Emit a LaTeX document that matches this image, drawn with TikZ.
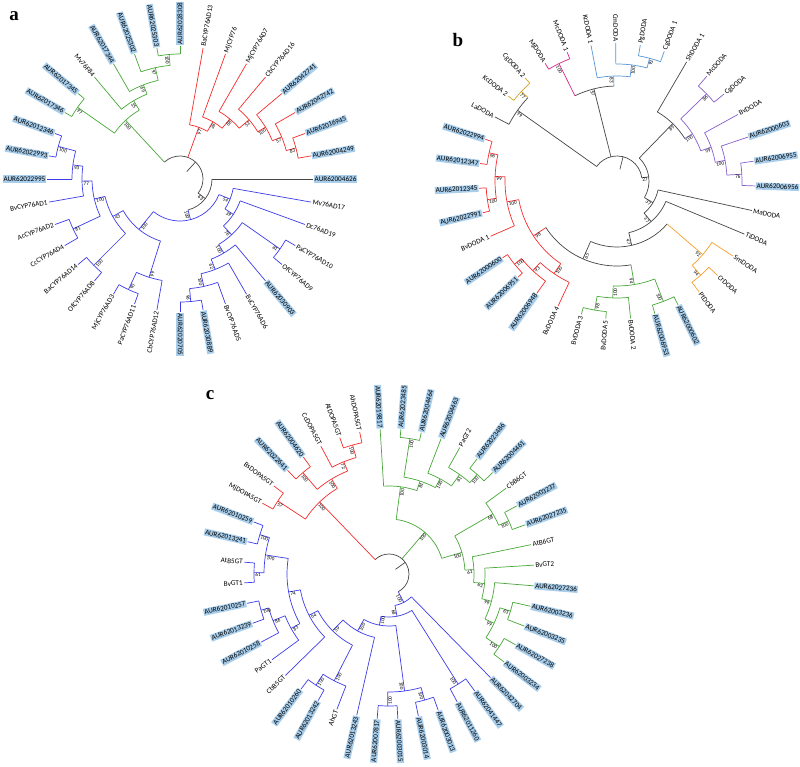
\documentclass[tikz,border=0pt]{standalone}
\usepackage{fontspec}
\newfontfamily\lblf{Carlito}
\newfontfamily\pnlf{Liberation Serif}
\newcommand\lblfont{\lblf\fontsize{7.2}{8}\selectfont}
\newcommand\bsfont{\lblf\fontsize{5.2}{5.5}\selectfont}
\definecolor{cG}{RGB}{72,168,56}
\definecolor{cR}{RGB}{245,45,45}
\definecolor{cB}{RGB}{60,60,235}
\definecolor{cK}{RGB}{70,70,70}
\definecolor{cGo}{RGB}{205,165,45}
\definecolor{cMg}{RGB}{215,40,135}
\definecolor{cLb}{RGB}{85,150,215}
\definecolor{cPu}{RGB}{135,95,205}
\definecolor{cOr}{RGB}{245,160,45}
\definecolor{hlc}{RGB}{168,206,236}
\newcounter{lf}\newcounter{bs}
\tikzset{
  br/.style={line width=0.7pt, line join=round},
  lab/.style={font=\lblfont, inner sep=0.9pt, text height=4.9pt, text depth=0.4pt},
  hl/.style={lab, fill=hlc},
  bsl/.style={font=\bsfont, inner sep=0.3pt, text height=3.6pt, text depth=0pt},
  pnl/.style={font=\pnlf\bfseries\fontsize{19}{19}\selectfont, inner sep=0pt}
}
\newcommand\Side[1]{%
  \pgfmathsetmacro\pA{mod(#1+720,360)}%
  \pgfmathsetmacro\pA{\pA>180 ? \pA-360 : \pA}%
  \pgfmathtruncatemacro\pS{abs(\pA)<=90.01 ? 1 : 0}%
  \ifnum\pS=1 \pgfmathsetmacro\pR{0-(\pA)}\else\pgfmathsetmacro\pR{180-(\pA)}\fi}
% leaf: colour, angle, parent radius, style, text
\newcommand\Lf[5]{%
  \draw[br,#1] (#2:#3) -- (#2:\LR);
  \Side{#2}%
  \stepcounter{lf}%
  \ifnum\pS=1
    \node[#4,anchor=west,rotate=\pR] (L\arabic{lf}) at ({\pA}:{\LR+0.6}) {#5};
  \else
    \node[#4,anchor=east,rotate=\pR] (L\arabic{lf}) at ({\pA}:{\LR+0.6}) {#5};
  \fi}
% internal node: colour, angle, parent radius, radius, arc from, arc to, support
\newcommand\In[7]{%
  \draw[br,#1] (#2:#3) -- (#2:#4);
  \draw[br,#1] (#5:#4) arc[start angle=#5,end angle=#6,radius=#4];
  \Side{#2}%
  \stepcounter{bs}%
  \ifnum\pS=1
    \node[bsl,anchor=north east,rotate=\pR] (B\arabic{bs}) at ({\pA}:{#4-1}) {#7};
  \else
    \node[bsl,anchor=north west,rotate=\pR] (B\arabic{bs}) at ({\pA}:{#4-1}) {#7};
  \fi}
\begin{document}
\begin{tikzpicture}[x=1pt,y=1pt]
\useasboundingbox (0,0) rectangle (800,-767);
\fill[white] (0,0) rectangle (800,-767);
\node[pnl] (pa) at (14,-16) {a};
\node[pnl] (pb) at (458,-40) {b};
\node[pnl] (pc) at (210,-395) {c};

% ================= tree a =================
\begin{scope}[shift={(180,-179)},yscale=-1]
\def\LR{133}
\draw[br,cK] (-47.5:10) -- (-47.5:23);
\draw[br,cK] (-132.8:23) arc[start angle=-132.8,end angle=37.75,radius=23];
% green
\In{cG}{-132.8}{23}{80}{-145}{-120.6}{100}
\In{cG}{-120.6}{80}{91}{-130}{-111.25}{35}
\In{cG}{-111.25}{91}{101}{-120}{-102.5}{69}
\In{cG}{-102.5}{101}{114}{-110}{-95}{97}
\In{cG}{-95}{114}{125}{-100}{-90}{100}
\In{cG}{-145}{80}{125}{-150}{-140}{97}
\Lf{cG}{-90}{125}{hl}{AUR62028308}
\Lf{cG}{-100}{125}{hl}{AUR62025303}
\Lf{cG}{-110}{114}{hl}{AUR62025302}
\Lf{cG}{-120}{101}{hl}{AUR62017344}
\Lf{cG}{-130}{91}{lab}{Mv76F84}
\Lf{cG}{-140}{125}{hl}{AUR62017345}
\Lf{cG}{-150}{125}{hl}{AUR62017346}
% red
\In{cR}{-70.08}{23}{55}{-80}{-60.16}{97}
\In{cR}{-60.16}{55}{66}{-70}{-50.31}{28}
\In{cR}{-50.31}{66}{78}{-60}{-40.63}{88}
\In{cR}{-40.63}{78}{91}{-50}{-31.25}{52}
\In{cR}{-31.25}{91}{100}{-40}{-22.5}{100}
\In{cR}{-22.5}{100}{110}{-30}{-15}{57}
\In{cR}{-15}{110}{120}{-20}{-10}{83}
\Lf{cR}{-80}{55}{lab}{BaCYP76AD13}
\Lf{cR}{-70}{66}{lab}{MjCYP76}
\Lf{cR}{-60}{78}{lab}{MjCYP76AD7}
\Lf{cR}{-50}{91}{lab}{CbCYP76AD16}
\Lf{cR}{-40}{100}{hl}{AUR62042741}
\Lf{cR}{-30}{110}{hl}{AUR62042742}
\Lf{cR}{-20}{120}{hl}{AUR62016945}
\Lf{cR}{-10}{120}{hl}{AUR62004249}
% black + blue
\In{cK}{37.75}{23}{32}{0}{75.5}{63}
\Lf{cK}{0}{32}{hl}{AUR62004626}
\In{cB}{75.5}{32}{42}{21.8}{129.2}{100}
\In{cB}{21.8}{42}{54}{10}{33.59}{54}
\Lf{cB}{10}{54}{lab}{Mv76AD17}
\In{cB}{33.59}{54}{64}{20}{47.19}{39}
\Lf{cB}{20}{64}{lab}{Dc76AD19}
\In{cB}{47.19}{64}{76}{35}{59.38}{78}
\In{cB}{35}{76}{122}{30}{40}{81}
\Lf{cB}{30}{122}{lab}{PaCYP76AD10}
\Lf{cB}{40}{122}{lab}{OfCYP76AD9}
\In{cB}{59.38}{76}{86}{50}{68.75}{100}
\Lf{cB}{50}{86}{hl}{AUR62030903}
\In{cB}{68.75}{86}{97}{60}{77.5}{62}
\Lf{cB}{60}{97}{lab}{BvCYP76AD6}
\In{cB}{77.5}{97}{110}{70}{85}{100}
\Lf{cB}{70}{110}{lab}{BvCYP76AD5}
\In{cB}{85}{110}{123}{80}{90}{96}
\Lf{cB}{80}{123}{hl}{AUR62030889}
\Lf{cB}{90}{123}{hl}{AUR62020705}
\In{cB}{129.2}{42}{65}{107.5}{150.9}{100}
\In{cB}{107.5}{65}{103}{100}{115}{99}
\Lf{cB}{100}{103}{lab}{CbCYP76AD12}
\In{cB}{115}{103}{122}{110}{120}{90}
\Lf{cB}{110}{122}{lab}{PaCYP76AD11}
\Lf{cB}{120}{122}{lab}{MjCYP76AD3}
\In{cB}{150.9}{65}{77}{135}{166.9}{43}
\In{cB}{135}{77}{122}{130}{140}{100}
\Lf{cB}{130}{122}{lab}{OfCYP76AD8}
\Lf{cB}{140}{122}{lab}{BaCYP76AD14}
\In{cB}{166.9}{77}{88}{155}{178.75}{100}
\In{cB}{155}{88}{118}{150}{160}{81}
\Lf{cB}{150}{118}{lab}{CcCYP76AD4}
\Lf{cB}{160}{118}{lab}{AcCYP76AD2}
\In{cB}{178.75}{88}{98}{170}{187.5}{77}
\Lf{cB}{170}{98}{lab}{BvCYP76AD1}
\In{cB}{187.5}{98}{108}{180}{195}{93}
\Lf{cB}{180}{108}{hl}{AUR62022995}
\In{cB}{195}{108}{126}{190}{200}{100}
\Lf{cB}{190}{126}{hl}{AUR62022993}
\Lf{cB}{200}{126}{hl}{AUR62012346}
\end{scope}

% ================= tree b =================
\begin{scope}[shift={(617,-181)},yscale=-1]
\def\LR{138}
\draw[br,cK] (-75.98:12) -- (-75.98:25);
\draw[br,cK] (-144.58:25) arc[start angle=-144.58,end angle=-7.375,radius=25];
\In{cK}{-144.58}{25}{122}{-152.3}{-136.865}{99}
\Lf{cK}{-152.3}{122}{lab}{LaDODA}
\In{cGo}{-136.865}{122}{131}{-142.01}{-131.72}{77}
\Lf{cGo}{-142.01}{131}{lab}{KcDODA 2}
\Lf{cGo}{-131.72}{131}{lab}{CgDODA 2}
\In{cK}{-104.07}{25}{95}{-116.285}{-91.85}{57}
\In{cMg}{-116.285}{95}{131}{-121.43}{-111.14}{100}
\Lf{cMg}{-121.43}{131}{lab}{MjDODA}
\Lf{cMg}{-111.14}{131}{lab}{McDODA 1}
\In{cLb}{-91.85}{95}{105}{-100.85}{-82.84}{83}
\Lf{cLb}{-100.85}{105}{lab}{KcDODA 1}
\In{cLb}{-82.84}{105}{117}{-90.56}{-75.125}{100}
\Lf{cLb}{-90.56}{117}{lab}{CmDODA}
\In{cLb}{-75.125}{117}{127}{-80.27}{-69.98}{92}
\Lf{cLb}{-80.27}{127}{lab}{PgDODA}
\Lf{cLb}{-69.98}{127}{lab}{CgDODA 1}
\In{cK}{-7.375}{25}{32}{-45.86}{31.11}{27}
\In{cK}{-45.86}{32}{80}{-59.69}{-32.04}{89}
\Lf{cK}{-59.69}{80}{lab}{ShDODA 1}
\In{cPu}{-32.04}{80}{89}{-44.255}{-19.82}{100}
\In{cPu}{-44.255}{89}{125}{-49.4}{-39.11}{86}
\Lf{cPu}{-49.4}{125}{lab}{McDODA}
\Lf{cPu}{-39.11}{125}{lab}{CgDODA}
\In{cPu}{-19.82}{89}{100}{-28.82}{-10.81}{99}
\Lf{cPu}{-28.82}{100}{lab}{BvDODA}
\In{cPu}{-10.81}{100}{110}{-18.53}{-3.095}{100}
\Lf{cPu}{-18.53}{110}{hl}{AUR62000603}
\In{cPu}{-3.095}{110}{125}{-8.24}{2.05}{76}
\Lf{cPu}{-8.24}{125}{hl}{AUR62006955}
\Lf{cPu}{2.05}{125}{hl}{AUR62006956}
\In{cK}{31.11}{32}{42}{12.34}{49.88}{37}
\Lf{cK}{12.34}{42}{lab}{MaDODA}
\In{cK}{49.88}{42}{53}{22.63}{77.135}{37}
\Lf{cK}{22.63}{53}{lab}{TiDODA}
\In{cK}{77.135}{53}{66}{40.64}{113.63}{47}
\In{cOr}{40.64}{66}{113}{32.92}{48.355}{92}
\Lf{cOr}{32.92}{113}{lab}{SmDODA}
\In{cOr}{48.355}{113}{126}{43.21}{53.5}{94}
\Lf{cOr}{43.21}{126}{lab}{CrDODA}
\Lf{cOr}{53.5}{126}{lab}{PtDODA}
\In{cK}{113.63}{66}{85}{80.51}{146.75}{65}
\In{cG}{80.51}{85}{105}{68.935}{92.09}{94}
\In{cG}{68.935}{105}{129}{63.79}{74.08}{100}
\Lf{cG}{63.79}{129}{hl}{AUR62000602}
\Lf{cG}{74.08}{129}{hl}{AUR62006953}
\In{cG}{92.09}{105}{117}{84.37}{99.805}{100}
\Lf{cG}{84.37}{117}{lab}{BvDODA 2}
\In{cG}{99.805}{117}{131}{94.66}{104.95}{98}
\Lf{cG}{94.66}{131}{lab}{BvDODA 5}
\Lf{cG}{104.95}{131}{lab}{BvDODA 3}
\In{cR}{146.75}{85}{100}{124.24}{169.26}{98}
\In{cR}{124.24}{100}{112}{115.24}{133.25}{100}
\Lf{cR}{115.24}{112}{lab}{BvDODA 4}
\In{cR}{133.25}{112}{123}{125.53}{140.965}{93}
\Lf{cR}{125.53}{123}{hl}{AUR62006948}
\In{cR}{140.965}{123}{132}{135.82}{146.11}{100}
\Lf{cR}{135.82}{132}{hl}{AUR62006951}
\Lf{cR}{146.11}{132}{hl}{AUR62000600}
\In{cR}{169.26}{100}{112}{156.4}{182.125}{100}
\Lf{cR}{156.4}{112}{lab}{BvDODA 1}
\In{cR}{182.125}{112}{122}{171.835}{192.415}{99}
\In{cR}{171.835}{122}{131}{166.69}{176.98}{100}
\Lf{cR}{166.69}{131}{hl}{AUR62022991}
\Lf{cR}{176.98}{131}{hl}{AUR62012345}
\In{cR}{192.415}{122}{131}{187.27}{197.56}{96}
\Lf{cR}{187.27}{131}{hl}{AUR62012347}
\Lf{cR}{197.56}{131}{hl}{AUR62022994}
\end{scope}

% ================= tree c =================
\begin{scope}[shift={(389,-574)},yscale=-1]
\def\LR{145}
\draw[br,cK] (-35.7:8) -- (-35.7:20);
\draw[br,cK] (-133.9:20) arc[start angle=-133.9,end angle=62.43,radius=20];
% red
\In{cR}{226.1}{20}{100}{213.32}{238.885}{100}
\In{cR}{213.32}{100}{133}{209.23}{217.41}{57}
\Lf{cR}{209.23}{133}{lab}{MjDOPA5GT}
\Lf{cR}{217.41}{133}{lab}{BsDOPA5GT}
\In{cR}{238.885}{100}{111}{229.68}{248.09}{100}
\In{cR}{229.68}{111}{133}{225.59}{233.77}{100}
\Lf{cR}{225.59}{133}{hl}{AUR62022641}
\Lf{cR}{233.77}{133}{hl}{AUR62004620}
\In{cR}{248.09}{111}{121}{241.95}{254.23}{72}
\Lf{cR}{241.95}{121}{lab}{CcDOPA5GT}
\In{cR}{254.23}{121}{134}{250.14}{258.32}{100}
\Lf{cR}{250.14}{134}{lab}{AtDOPA5GT}
\Lf{cR}{258.32}{134}{lab}{AhDOPA5GT}
% green
\In{cG}{-49.52}{20}{55}{-82.5}{-16.54}{100}
\In{cG}{-82.5}{55}{88}{-93.5}{-71.51}{100}
\Lf{cG}{-93.5}{88}{hl}{AUR62019817}
\In{cG}{-71.51}{88}{98}{-81.23}{-61.79}{81}
\In{cG}{-81.23}{98}{137}{-85.32}{-77.14}{100}
\Lf{cG}{-85.32}{137}{hl}{AUR62023485}
\Lf{cG}{-77.14}{137}{hl}{AUR62004464}
\In{cG}{-61.79}{98}{108}{-68.95}{-54.635}{100}
\Lf{cG}{-68.95}{108}{hl}{AUR62004463}
\In{cG}{-54.635}{108}{122}{-60.77}{-48.5}{61}
\Lf{cG}{-60.77}{122}{lab}{PaGT2}
\In{cG}{-48.5}{122}{133}{-52.59}{-44.41}{100}
\Lf{cG}{-52.59}{133}{hl}{AUR62023486}
\Lf{cG}{-44.41}{133}{hl}{AUR62004461}
\In{cG}{-16.54}{55}{76}{-30.09}{-2.99}{100}
\In{cG}{-30.09}{76}{120}{-36.23}{-23.955}{68}
\Lf{cG}{-36.23}{120}{lab}{CbB6GT}
\In{cG}{-23.955}{120}{131}{-28.05}{-19.86}{100}
\Lf{cG}{-28.05}{131}{hl}{AUR62003237}
\Lf{cG}{-19.86}{131}{hl}{AUR62027235}
\In{cG}{-2.99}{76}{85}{-11.68}{5.705}{61}
\Lf{cG}{-11.68}{85}{lab}{AtB6GT}
\In{cG}{5.705}{85}{96}{-3.5}{14.91}{62}
\Lf{cG}{-3.5}{96}{lab}{BvGT2}
\In{cG}{14.91}{96}{106}{4.68}{25.14}{99}
\Lf{cG}{4.68}{106}{hl}{AUR62027236}
\In{cG}{25.14}{106}{116}{16.955}{33.32}{99}
\In{cG}{16.955}{116}{127}{12.86}{21.05}{63}
\Lf{cG}{12.86}{127}{hl}{AUR62003236}
\Lf{cG}{21.05}{127}{hl}{AUR62003235}
\In{cG}{33.32}{116}{132}{29.23}{37.41}{100}
\Lf{cG}{29.23}{132}{hl}{AUR62027238}
\Lf{cG}{37.41}{132}{hl}{AUR62003234}
% blue
\In{cB}{62.43}{20}{32}{45.59}{79.26}{100}
\Lf{cB}{45.59}{32}{hl}{AUR62042704}
\In{cB}{79.26}{32}{43}{57.86}{100.66}{68}
\In{cB}{57.86}{43}{130}{53.77}{61.95}{100}
\Lf{cB}{53.77}{130}{hl}{AUR62041447}
\Lf{cB}{61.95}{130}{hl}{AUR62011260}
\In{cB}{100.66}{43}{52}{82.41}{118.9}{100}
\In{cB}{82.41}{52}{118}{74.23}{90.59}{100}
\In{cB}{74.23}{118}{131}{70.14}{78.32}{100}
\Lf{cB}{70.14}{131}{hl}{AUR62003013}
\Lf{cB}{78.32}{131}{hl}{AUR62003014}
\In{cB}{90.59}{118}{132}{86.5}{94.68}{100}
\Lf{cB}{86.5}{132}{hl}{AUR62003015}
\Lf{cB}{94.68}{132}{hl}{AUR62007817}
\In{cB}{118.9}{52}{65}{102.86}{134.95}{100}
\Lf{cB}{102.86}{65}{hl}{AUR62013243}
\In{cB}{134.95}{65}{80}{117.185}{152.72}{59}
\In{cB}{117.185}{80}{120}{111.05}{123.32}{100}
\Lf{cB}{111.05}{120}{lab}{AhGT}
\In{cB}{123.32}{120}{133}{119.23}{127.41}{100}
\Lf{cB}{119.23}{133}{hl}{AUR62013242}
\Lf{cB}{127.41}{133}{hl}{AUR62010260}
\In{cB}{152.72}{80}{90}{135.59}{169.85}{64}
\Lf{cB}{135.59}{90}{lab}{CbB5GT}
\In{cB}{169.85}{90}{102}{150.93}{188.77}{74}
\In{cB}{150.93}{102}{112}{143.77}{158.09}{85}
\Lf{cB}{143.77}{112}{lab}{PaGT1}
\In{cB}{158.09}{112}{125}{151.95}{164.23}{86}
\Lf{cB}{151.95}{125}{hl}{AUR62010258}
\In{cB}{164.23}{125}{133}{160.14}{168.32}{100}
\Lf{cB}{160.14}{133}{hl}{AUR62013239}
\Lf{cB}{168.32}{133}{hl}{AUR62010257}
\In{cB}{188.77}{102}{125}{180.59}{196.955}{100}
\In{cB}{180.59}{125}{135}{176.5}{184.68}{61}
\Lf{cB}{176.5}{135}{lab}{BvGT1}
\Lf{cB}{184.68}{135}{lab}{AtB5GT}
\In{cB}{196.955}{125}{135}{192.86}{201.05}{100}
\Lf{cB}{192.86}{135}{hl}{AUR62013241}
\Lf{cB}{201.05}{135}{hl}{AUR62010259}
\end{scope}
\end{tikzpicture}
\end{document}
